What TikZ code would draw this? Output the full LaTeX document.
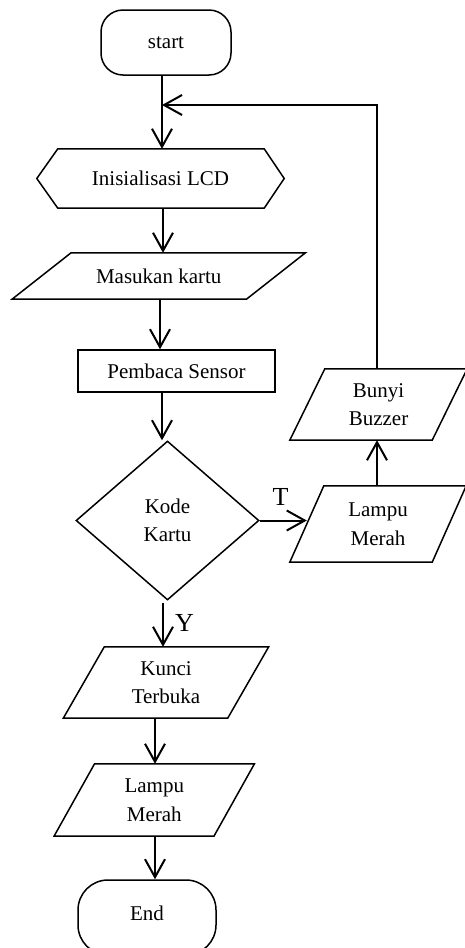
\documentclass[tikz,border=0pt]{standalone}
\usepackage{fontspec}
\setmainfont{Liberation Serif}
\usetikzlibrary{arrows.meta,shapes.geometric}
\tikzset{
  txt/.style={font=\fontsize{21}{28.5}\selectfont, align=center, inner sep=0pt},
  outline/.style={draw, line width=1.5pt, line join=miter},
  drawn/.style={draw, line width=1.5pt},
  conn/.style={line width=2pt, -{Straight Barb[length=18pt,width=20pt]}},
  plain/.style={line width=2pt},
  lbl/.style={font=\fontsize{26}{30}\selectfont, inner sep=0pt},
}
\newcommand\paraoutline[2]{%
  \draw[outline] ([xshift=#2]#1.north west) -- ([xshift=#2]#1.north east)
    -- ([xshift=-#2]#1.south east) -- ([xshift=-#2]#1.south west) -- cycle;}
\begin{document}
\begin{tikzpicture}[x=1pt,y=-1pt]
\useasboundingbox (0,0) rectangle (465,948);
\clip (0,0) rectangle (465,948);

% start
\node[txt, drawn, rounded corners=22pt, minimum width=130pt, minimum height=65pt] (start) at (166,42.5) {start};

% LCD hexagon
\node[txt, minimum width=247pt, minimum height=59pt] (lcd) at (160.5,178.5) {Inisialisasi LCD};
\draw[outline] (lcd.west) -- ([xshift=21pt]lcd.north west) -- ([xshift=-20pt]lcd.north east)
  -- (lcd.east) -- ([xshift=-20pt]lcd.south east) -- ([xshift=21pt]lcd.south west) -- cycle;

% Masukan kartu
\node[txt, minimum width=234pt, minimum height=46pt] (mk) at (158.75,276) {Masukan kartu};
\paraoutline{mk}{29.5pt}

% Pembaca Sensor
\node[txt, drawn, minimum width=197pt, minimum height=42pt] (pb) at (176.5,371) {Pembaca Sensor};

% Kode Kartu
\node[txt, drawn, diamond, minimum width=183pt, minimum height=159pt] (kk) at (167.5,520.5) {Kode\\Kartu};

% Lampu Merah (right)
\node[txt, minimum width=142pt, minimum height=76pt] (lm1) at (378,524) {Lampu\\Merah};
\paraoutline{lm1}{17pt}

% Bunyi Buzzer
\node[txt, minimum width=142pt, minimum height=71pt] (bz) at (378.5,404.5) {Bunyi\\Buzzer};
\paraoutline{bz}{17.5pt}

% Kunci Terbuka
\node[txt, minimum width=164pt, minimum height=71pt] (kt) at (166,682.5) {Kunci\\Terbuka};
\paraoutline{kt}{20.5pt}

% Lampu Merah (bottom)
\node[txt, minimum width=159.5pt, minimum height=72pt] (lm2) at (154.25,800) {Lampu\\Merah};
\paraoutline{lm2}{20.25pt}

% End
\node[drawn, rounded corners=30pt, minimum width=138pt, minimum height=75pt, inner sep=0pt] (end) at (147,917.5) {};
\node[txt] (endtxt) at (147,913) {End};

% labels
\node[lbl] (tl) at (280.5,496.5) {T};
\node[lbl] (yl) at (184.5,623) {Y};

% connectors
\coordinate (join) at (162,105);
\draw[conn] ([xshift=-4pt]start.south) -- ([xshift=1.5pt]lcd.north);
\draw[conn] ([xshift=2.5pt]lcd.south) -- ([xshift=4.25pt]mk.north);
\draw[conn] ([xshift=1.25pt]mk.south) -- ([xshift=-16.5pt]pb.north);
\draw[conn] ([xshift=-14.5pt]pb.south) -- ([xshift=-5.5pt]kk.north);
\draw[conn] ([xshift=-4.5pt,yshift=-2pt]kk.south) -- ([xshift=-3pt]kt.north);
\draw[conn] ([xshift=-11pt]kt.south) -- ([xshift=0.75pt]lm2.north);
\draw[conn] ([xshift=0.75pt]lm2.south) -- ([xshift=8pt]end.north);
\draw[conn] (kk.east) -- (kk.east -| lm1.west);
\draw[conn] ([xshift=-1pt]lm1.north) -- ([xshift=-1.5pt]bz.south);
\draw[conn] ([xshift=-1.5pt]bz.north) |- (join);
\end{tikzpicture}
\end{document}
